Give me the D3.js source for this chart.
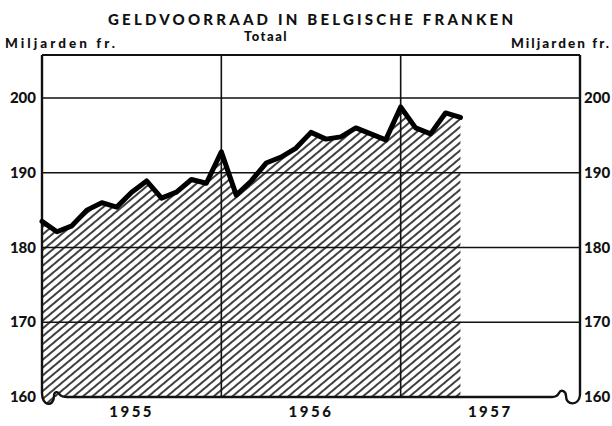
<!DOCTYPE html>
<html>
<head>
<meta charset="utf-8">
<script src="https://cdn.jsdelivr.net/npm/d3@7"></script>
<style>
  body { margin: 0; background: #fff; }
  text { font-family: Lato, 'Open Sans', sans-serif; font-weight: 900; fill: #111; }
</style>
</head>
<body>
<svg id="svg" width="612" height="426"></svg>
<script>
// monthly money supply, Dec 1954 - Apr 1957 (billion BEF)
const months = ['1954-12', '1955-01', '1955-02', '1955-03', '1955-04', '1955-05', '1955-06',
  '1955-07', '1955-08', '1955-09', '1955-10', '1955-11', '1955-12',
  '1956-01', '1956-02', '1956-03', '1956-04', '1956-05', '1956-06',
  '1956-07', '1956-08', '1956-09', '1956-10', '1956-11', '1956-12',
  '1957-01', '1957-02', '1957-03', '1957-04']
const values = [183.5, 182.1, 182.9, 185.0, 186.0, 185.4, 187.4,
  188.9, 186.6, 187.4, 189.1, 188.6, 192.8,
  187.0, 188.9, 191.3, 192.1, 193.3, 195.4,
  194.5, 194.8, 196.0, 195.2, 194.4, 198.8,
  196.0, 195.2, 198.0, 197.4]
const years = ['1955', '1956', '1957']
const yTicks = [160, 170, 180, 190, 200]
const yearBreaks = [12, 24] // Dec 1955, Dec 1956

const data = months.map((m, i) => ({ i: i, month: m, value: values[i] }))

const pLeft = 42
const pRight = 580
const pTop = 55
const pBottom = 397

const x = d3.scaleLinear().domain([0, 36]).range([pLeft, pRight])
const y = d3.scaleLinear().domain([160, 200]).range([pBottom, 98])

const svg = d3.select('#svg')

// hatch pattern
const defs = svg.append('defs')
defs.append('pattern')
  .attr('id', 'hatch')
  .attr('patternUnits', 'userSpaceOnUse')
  .attr('width', 10)
  .attr('height', 6)
  .attr('patternTransform', 'rotate(-40)')
  .append('line')
  .attr('x1', 0).attr('y1', 3)
  .attr('x2', 10).attr('y2', 3)
  .attr('stroke', '#000')
  .attr('stroke-width', 1.5)

// hatched area under the line
const area = d3.area()
  .x(d => x(d.i))
  .y0(y(160))
  .y1(d => y(d.value))

svg.append('path')
  .datum(data)
  .attr('d', area)
  .attr('fill', 'url(#hatch)')

// fill inside the left break loop
svg.append('path')
  .attr('d', `M${pLeft},${pBottom} C${pLeft},${pBottom + 10} ${pLeft + 12},${pBottom + 10} ${pLeft + 12},${pBottom}Z`)
  .attr('fill', 'url(#hatch)')

// horizontal grid
svg.append('g')
  .selectAll('line')
  .data(yTicks.filter(t => t > 160))
  .enter()
  .append('line')
  .attr('x1', pLeft).attr('x2', pRight)
  .attr('y1', d => y(d)).attr('y2', d => y(d))
  .attr('stroke', '#111')
  .attr('stroke-width', 1.6)

// year separators
svg.append('g')
  .selectAll('line')
  .data(yearBreaks)
  .enter()
  .append('line')
  .attr('x1', d => x(d)).attr('x2', d => x(d))
  .attr('y1', pTop).attr('y2', pBottom)
  .attr('stroke', '#111')
  .attr('stroke-width', 1.6)

// frame: top, axes and baseline with break marks
svg.append('line')
  .attr('x1', pLeft).attr('x2', pRight)
  .attr('y1', pTop).attr('y2', pTop)
  .attr('stroke', '#111').attr('stroke-width', 2)

svg.append('path')
  .attr('d', `M${pLeft},${pTop} L${pLeft},${pBottom - 4}` +
    ` C${pLeft},${pBottom + 10} ${pLeft + 12},${pBottom + 10} ${pLeft + 12},${pBottom - 1}` +
    ` C${pLeft + 12},${pBottom - 6} ${pLeft + 16},${pBottom - 6} ${pLeft + 18},${pBottom - 2}` +
    ` Q${pLeft + 20},${pBottom} ${pLeft + 25},${pBottom}` +
    ` L${pRight - 28},${pBottom}` +
    ` Q${pRight - 23},${pBottom} ${pRight - 21},${pBottom - 4}` +
    ` C${pRight - 19},${pBottom - 8} ${pRight - 14},${pBottom - 6} ${pRight - 14},${pBottom - 1}` +
    ` C${pRight - 14},${pBottom + 9} ${pRight - 1},${pBottom + 9} ${pRight},${pBottom - 2}` +
    ` L${pRight},${pTop}`)
  .attr('fill', 'none')
  .attr('stroke', '#111')
  .attr('stroke-width', 2.4)
  .attr('stroke-linejoin', 'round')

// data line
const line = d3.line()
  .x(d => x(d.i))
  .y(d => y(d.value))

svg.append('path')
  .datum(data)
  .attr('d', line)
  .attr('fill', 'none')
  .attr('stroke', '#000')
  .attr('stroke-width', 5)
  .attr('stroke-linejoin', 'round')
  .attr('stroke-linecap', 'round')

// tick labels, both sides
svg.append('g')
  .selectAll('text')
  .data(yTicks)
  .enter()
  .append('text')
  .text(d => d)
  .attr('x', 36)
  .attr('y', d => y(d) + 5)
  .attr('text-anchor', 'end')
  .style('font-size', '15px')

svg.append('g')
  .selectAll('text')
  .data(yTicks)
  .enter()
  .append('text')
  .text(d => d)
  .attr('x', 584)
  .attr('y', d => y(d) + 5)
  .style('font-size', '15px')

// year labels
svg.append('g')
  .selectAll('text')
  .data(years)
  .enter()
  .append('text')
  .text(d => d)
  .attr('x', (d, i) => x(i * 12 + 6))
  .attr('y', 417)
  .attr('text-anchor', 'middle')
  .attr('letter-spacing', 2.5)
  .style('font-size', '15px')

// titles
svg.append('text')
  .text('GELDVOORRAAD IN BELGISCHE FRANKEN')
  .attr('x', 108)
  .attr('y', 25)
  .attr('textLength', 405)
  .attr('lengthAdjust', 'spacing')
  .style('font-size', '15px')

svg.append('text')
  .text('Totaal')
  .attr('x', 266)
  .attr('y', 41)
  .attr('text-anchor', 'middle')
  .attr('letter-spacing', 1.5)
  .style('font-size', '13px')

svg.append('text')
  .text('Miljarden fr.')
  .attr('x', 5)
  .attr('y', 48)
  .attr('textLength', 110)
  .attr('lengthAdjust', 'spacing')
  .style('font-size', '13.5px')

svg.append('text')
  .text('Miljarden fr.')
  .attr('x', 511)
  .attr('y', 48)
  .attr('textLength', 98)
  .attr('lengthAdjust', 'spacing')
  .style('font-size', '13.5px')
</script>
</body>
</html>
